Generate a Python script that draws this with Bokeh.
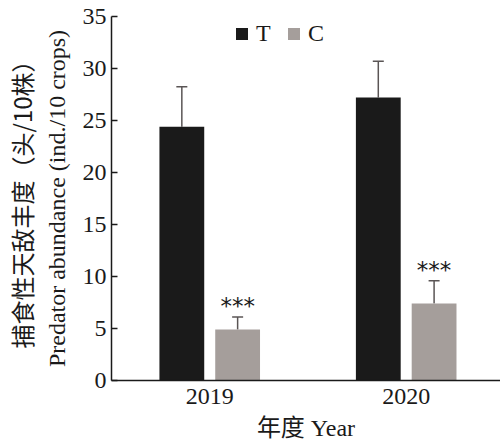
from bokeh.plotting import figure
from bokeh.models import (ColumnDataSource, Range1d, FixedTicker, LinearAxis, Whisker,
                          TeeHead, Legend, LegendItem)
from bokeh.transform import dodge
from bokeh.core.properties import value
from bokeh.embed import file_html
from bokeh.resources import INLINE

# ---- data ----
years = ["2019", "2020"]
t_mean = [24.4, 27.2]
t_err = [3.85, 3.5]
c_mean = [4.9, 7.4]
c_err = [1.2, 2.2]
stars = ["***", "***"]

SERIF = "Liberation Serif"
CJK = "Liberation Serif, Noto Sans CJK SC"

xpos = [i + 0.5 for i in range(len(years))]
src = ColumnDataSource(dict(
    x=xpos,
    t=t_mean, t_up=[m + e for m, e in zip(t_mean, t_err)],
    c=c_mean, c_up=[m + e for m, e in zip(c_mean, c_err)],
    s=stars,
))

p = figure(width=500, height=444, output_backend="svg", toolbar_location=None,
           x_range=Range1d(0, 1.98), y_range=Range1d(0, 35),
           min_border_left=110, min_border_right=0, min_border_top=16, min_border_bottom=64,
           background_fill_color="white", border_fill_color="white")
p.outline_line_color = None
p.xgrid.visible = False
p.ygrid.visible = False

off = 0.142
bw = 0.228
T_COL = "#1a1a1a"
C_COL = "#a59e9b"
rt = p.vbar(x=dodge("x", -off, range=p.x_range), top="t", width=bw, source=src,
            fill_color=T_COL, line_color=None)
rc = p.vbar(x=dodge("x", off, range=p.x_range), top="c", width=bw, source=src,
            fill_color=C_COL, line_color=None)

for top, up, o in (("t", "t_up", -off), ("c", "c_up", off)):
    w = Whisker(base=dodge("x", o, range=p.x_range), lower=top, upper=up, source=src,
                line_color="#5a5555", line_width=1.5,
                upper_head=TeeHead(size=11, line_color="#5a5555", line_width=1.5),
                lower_head=None)
    p.add_layout(w)

p.text(x=dodge("x", off, range=p.x_range), y="c_up", text="s", source=src,
       text_font=value("DejaVu Sans"), text_font_size="23px", text_color="#1a1a1a",
       text_align="center", text_baseline="alphabetic", y_offset=-11)

# axes
xa = p.xaxis[0]
xa.ticker = FixedTicker(ticks=xpos)
xa.major_label_overrides = {x: y for x, y in zip(xpos, years)}
xa.major_tick_line_color = None
xa.minor_tick_line_color = None
xa.axis_line_width = 1.5
xa.axis_line_color = "#1a1a1a"
xa.major_label_text_font = SERIF
xa.major_label_text_font_size = "24px"
xa.major_label_text_color = "#1a1a1a"
xa.major_label_standoff = 2
xa.axis_label = "年度 Year"
xa.axis_label_text_font = CJK
xa.axis_label_text_font_style = "normal"
xa.axis_label_text_font_size = "24px"
xa.axis_label_text_color = "#1a1a1a"
xa.axis_label_standoff = 8

ya = p.yaxis[0]
ya.ticker = FixedTicker(ticks=[0, 5, 10, 15, 20, 25, 30, 35])
ya.minor_tick_line_color = None
ya.major_tick_in = 6
ya.major_tick_out = 0
ya.major_tick_line_width = 1.5
ya.axis_line_width = 1.5
ya.axis_line_color = "#1a1a1a"
ya.major_tick_line_color = "#1a1a1a"
ya.major_label_text_font = SERIF
ya.major_label_text_font_size = "24px"
ya.major_label_text_color = "#1a1a1a"
ya.major_label_standoff = 5
ya.axis_label = "Predator abundance (ind./10 crops)"
ya.axis_label_text_font = SERIF
ya.axis_label_text_font_style = "normal"
ya.axis_label_text_font_size = "24px"
ya.axis_label_text_color = "#1a1a1a"
ya.axis_label_standoff = 10

ya2 = LinearAxis(ticker=FixedTicker(ticks=[]), axis_line_color=None,
                 major_tick_line_color=None, minor_tick_line_color=None,
                 major_tick_out=0, major_tick_in=0, major_label_standoff=0,
                 axis_label="捕食性天敌丰度（头/10株）",
                 axis_label_text_font="Noto Sans CJK SC",
                 axis_label_text_font_style="normal",
                 axis_label_text_font_size="24px",
                 axis_label_text_color="#1a1a1a",
                 axis_label_standoff=2)
p.add_layout(ya2, "left")

legend = Legend(items=[LegendItem(label="T", renderers=[rt]),
                       LegendItem(label="C", renderers=[rc])],
                orientation="horizontal", location=(123, 333),
                border_line_color=None, background_fill_alpha=0,
                glyph_width=15, glyph_height=15, label_height=15,
                label_text_font=SERIF, label_text_font_size="24px",
                label_text_color="#1a1a1a", label_standoff=7, spacing=10,
                padding=0, margin=0)
p.add_layout(legend)

open("out.html", "w").write(file_html(p, INLINE))
